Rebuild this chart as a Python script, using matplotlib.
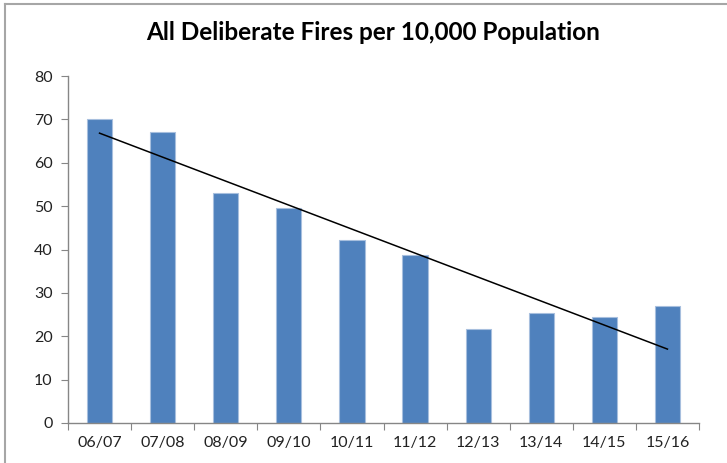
import matplotlib
matplotlib.use("Agg")
import matplotlib.pyplot as plt
from matplotlib.lines import Line2D
import numpy as np

plt.rcParams["font.family"] = ["Lato", "DejaVu Sans"]

seasons = ["06/07", "07/08", "08/09", "09/10", "10/11", "11/12", "12/13", "13/14", "14/15", "15/16"]
fires_per_10k = [70.2, 67.0, 53.0, 49.6, 42.3, 38.8, 21.6, 25.4, 24.5, 26.9]

fig = plt.figure(figsize=(7.27, 4.63), dpi=100)
ax = fig.add_axes([68 / 727, 40 / 463, 631 / 727, 347 / 463])

x = np.arange(len(seasons))
ax.bar(x, fires_per_10k, width=0.4, color="#4F81BD", edgecolor="#A7BFDE", linewidth=0.8, zorder=2)

# linear trendline
slope, intercept = np.polyfit(x, fires_per_10k, 1)
ax.plot(x, slope * x + intercept, color="black", linewidth=1.1, zorder=3)

ax.set_xlim(-0.5, len(seasons) - 0.5)
ax.set_ylim(0, 80)
ax.set_yticks(range(0, 81, 10))
ax.set_xticks(np.arange(len(seasons) + 1) - 0.5, minor=False)
ax.set_xticklabels([])
ax.set_xticks(x, minor=True)
ax.set_xticklabels(seasons, minor=True)
ax.tick_params(axis="x", which="minor", length=0, pad=9, labelsize=11.5, labelcolor="#222222")
ax.tick_params(axis="x", which="major", length=5, color="#868686", direction="out")
ax.tick_params(axis="y", length=5, color="#868686", direction="out", labelsize=11.5, labelcolor="#222222", pad=6)

for side in ["top", "right"]:
    ax.spines[side].set_visible(False)
for side in ["left", "bottom"]:
    ax.spines[side].set_color("#868686")
    ax.spines[side].set_linewidth(1)

fig.text(373 / 727, 1 - 33 / 463, "All Deliberate Fires per 10,000 Population",
         ha="center", va="center", fontsize=17.5, fontweight="bold", color="black")

# chart frame (top and left edges visible)
fig.add_artist(Line2D([5 / 727, 1], [1 - 4 / 463, 1 - 4 / 463], transform=fig.transFigure,
                      color="#A6A6A6", linewidth=1.5))
fig.add_artist(Line2D([5 / 727, 5 / 727], [0, 1 - 4 / 463], transform=fig.transFigure,
                      color="#A6A6A6", linewidth=1.5))

fig.savefig("out.png", dpi=100)
